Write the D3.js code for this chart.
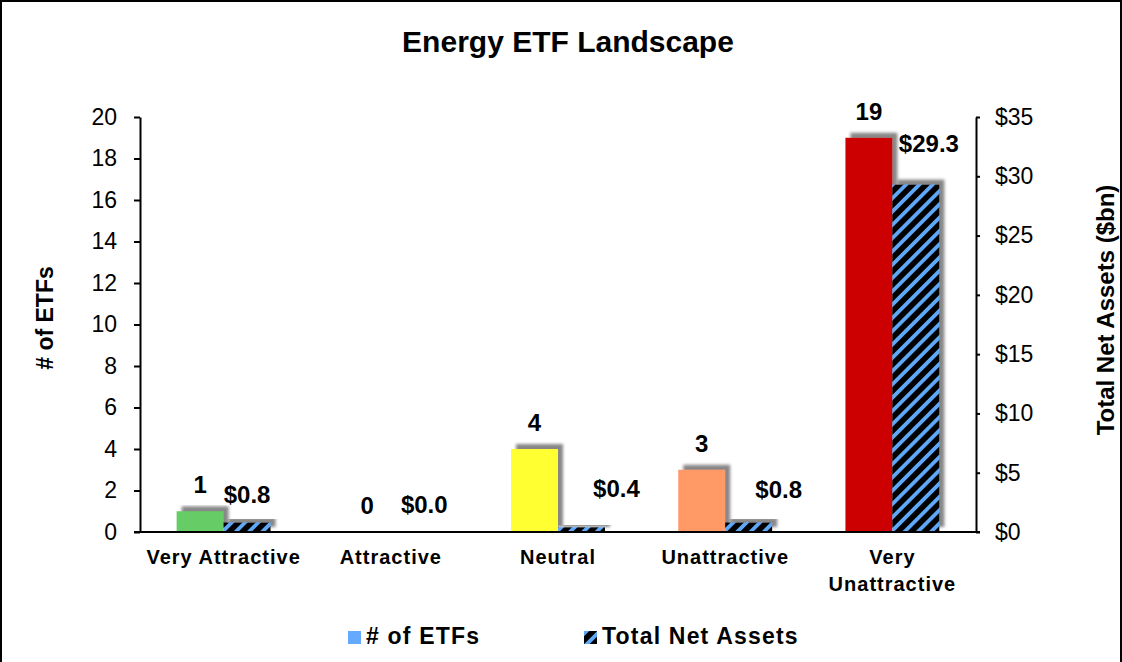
<!DOCTYPE html>
<html>
<head>
<meta charset="utf-8">
<script src="https://cdn.jsdelivr.net/npm/d3@7"></script>
<style>
  body { margin: 0; background: #fff; }
  svg { display: block; font-family: "Liberation Sans", Arial, sans-serif; }
  .axis path, .axis line { stroke: #000; stroke-width: 2; }
  .axis text { font-size: 23px; fill: #000; }
  .axis.x text { font-size: 20px; font-weight: bold; letter-spacing: 1px; }
</style>
</head>
<body>
<svg id="chart" width="1122" height="662"></svg>
<script>
const categories = ["Very Attractive", "Attractive", "Neutral", "Unattractive", "Very Unattractive"];
const etfCounts = [1, 0, 4, 3, 19];
const netAssets = [0.8, 0.0, 0.4, 0.8, 29.3];
const leftTicks = [0, 2, 4, 6, 8, 10, 12, 14, 16, 18, 20];
const rightTicks = [0, 5, 10, 15, 20, 25, 30, 35];

const barColors = ["#66cc66", "#66cc66", "#ffff33", "#ff9966", "#cc0000"];
// hand-placed asset labels, like in the original sheet
const assetLabelDx = [0, 10, 35, 30, 13];
const assetLabelDy = [20, 19, 30, 25, 33];

const svg = d3.select("#chart");
const W = 1122, H = 662;
const plotLeft = 140, plotRight = 976, plotTop = 117, plotBottom = 532;

const defs = svg.append("defs");

const stripes = defs.append("pattern")
  .attr("id", "stripes")
  .attr("patternUnits", "userSpaceOnUse")
  .attr("width", 9.4)
  .attr("height", 9.4)
  .attr("patternTransform", "rotate(45)");
stripes.append("rect").attr("width", 9.4).attr("height", 9.4).attr("fill", "#000");
stripes.append("rect").attr("width", 3.8).attr("height", 9.4).attr("fill", "#5fa8f8");

const shadow = defs.append("filter")
  .attr("id", "shadow")
  .attr("x", "-30%").attr("y", "-30%")
  .attr("width", "160%").attr("height", "160%");
shadow.append("feDropShadow")
  .attr("dx", 5).attr("dy", -5)
  .attr("stdDeviation", 1.6)
  .attr("flood-color", "#7a7a7a")
  .attr("flood-opacity", 0.9);

// frame
svg.append("rect")
  .attr("x", 1).attr("y", 1)
  .attr("width", W - 2).attr("height", H + 20)
  .attr("fill", "none")
  .attr("stroke", "#000")
  .attr("stroke-width", 2);

svg.append("text")
  .attr("x", 568).attr("y", 52)
  .attr("text-anchor", "middle")
  .attr("font-size", 30)
  .attr("font-weight", "bold")
  .text("Energy ETF Landscape");

const x = d3.scaleBand().domain(categories).range([plotLeft, plotRight]);
const xs = d3.scaleBand().domain(["count", "assets"])
  .range([0, x.bandwidth()])
  .paddingOuter(0.78);

const yL = d3.scaleLinear().domain([0, 20]).range([plotBottom, plotTop]);
const yR = d3.scaleLinear().domain([0, 35]).range([plotBottom, plotTop]);

// bars
const groups = svg.append("g").selectAll("g")
  .data(categories)
  .join("g")
  .attr("transform", d => `translate(${x(d)},0)`);

groups.append("rect")
  .attr("x", xs("count"))
  .attr("width", xs.bandwidth())
  .attr("y", (d, i) => Math.min(yL(etfCounts[i]), plotBottom - 1))
  .attr("height", (d, i) => Math.max(plotBottom - yL(etfCounts[i]), 1))
  .attr("fill", (d, i) => barColors[i])
  .attr("filter", "url(#shadow)");

groups.append("rect")
  .attr("x", xs("assets"))
  .attr("width", xs.bandwidth())
  .attr("y", (d, i) => yR(netAssets[i]))
  .attr("height", (d, i) => plotBottom - yR(netAssets[i]))
  .attr("fill", "url(#stripes)")
  .attr("filter", "url(#shadow)");

groups.append("text")
  .attr("x", xs("count") + xs.bandwidth() / 2)
  .attr("y", (d, i) => yL(etfCounts[i]) - 18)
  .attr("text-anchor", "middle")
  .attr("font-size", 24)
  .attr("font-weight", "bold")
  .text((d, i) => etfCounts[i]);

groups.append("text")
  .attr("x", (d, i) => xs("assets") + xs.bandwidth() / 2 + assetLabelDx[i])
  .attr("y", (d, i) => yR(netAssets[i]) - assetLabelDy[i])
  .attr("text-anchor", "middle")
  .attr("font-size", 24)
  .attr("font-weight", "bold")
  .text((d, i) => "$" + netAssets[i].toFixed(1));

// axes
svg.append("g")
  .attr("class", "axis")
  .attr("transform", `translate(${plotLeft},0)`)
  .call(d3.axisLeft(yL).tickValues(leftTicks).tickSize(6).tickSizeOuter(0).tickPadding(17));

svg.append("g")
  .attr("class", "axis")
  .attr("transform", `translate(${plotRight},0)`)
  .call(d3.axisRight(yR).tickValues(rightTicks).tickSize(4).tickSizeOuter(0).tickPadding(15)
    .tickFormat(d => "$" + d));

const xAxis = svg.append("g")
  .attr("class", "axis x")
  .attr("transform", `translate(0,${plotBottom})`)
  .call(d3.axisBottom(x).tickSize(0).tickPadding(18));
xAxis.select(".domain").attr("d", `M${plotLeft - 6},0H${plotRight + 4}`);
xAxis.selectAll("text")
  .each(function (d) {
    const t = d3.select(this);
    if (this.getComputedTextLength() <= x.bandwidth()) return;
    const words = d.split(" ");
    const dy = t.attr("dy");
    t.text(null);
    words.forEach((w, k) => {
      t.append("tspan")
        .attr("x", 0)
        .attr("dy", k === 0 ? dy : "1.35em")
        .text(w);
    });
  });

// axis titles
svg.append("text")
  .attr("transform", "translate(53,318) rotate(-90)")
  .attr("text-anchor", "middle")
  .attr("font-size", 23)
  .attr("font-weight", "bold")
  .text("# of ETFs");

svg.append("text")
  .attr("transform", "translate(1114,310) rotate(-90)")
  .attr("text-anchor", "middle")
  .attr("font-size", 24)
  .attr("font-weight", "bold")
  .text("Total Net Assets ($bn)");

// legend
const legendItems = [
  { label: "# of ETFs", fill: "#66aaff", x: 348 },
  { label: "Total Net Assets", fill: "url(#stripes)", x: 584 }
];
const legend = svg.append("g").selectAll("g")
  .data(legendItems)
  .join("g")
  .attr("transform", d => `translate(${d.x},631)`);
legend.append("rect")
  .attr("width", 13).attr("height", 13)
  .attr("fill", d => d.fill);
legend.append("text")
  .attr("x", 18).attr("y", 13)
  .attr("font-size", 23)
  .attr("font-weight", "bold")
  .attr("letter-spacing", 1.2)
  .text(d => d.label);
</script>
</body>
</html>
